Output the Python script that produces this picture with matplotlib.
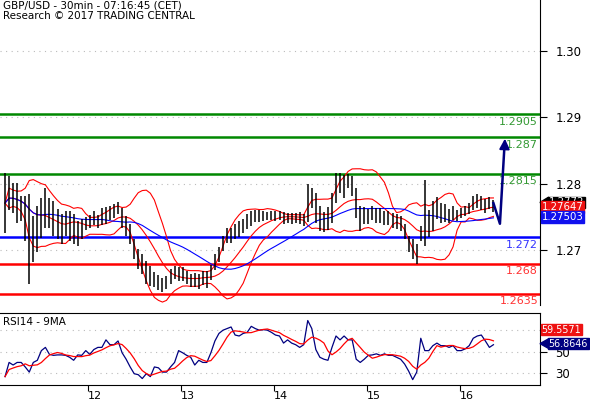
import numpy as np
import matplotlib
matplotlib.use("Agg")
import matplotlib.pyplot as plt
from matplotlib.patches import Polygon

# hourly closes
closes = [1.2771,1.2786,1.2778,1.2771,1.2763,1.2748,1.2717,1.2717,1.2732,1.2748,1.2763,1.2756,1.2748,1.2740,1.2732,1.2740,1.2737,1.2732,1.2725,1.2732,
          1.2740,1.2743,1.2748,1.2743,1.2751,1.2752,1.2756,1.2759,1.2763,1.2748,1.2737,1.2725,1.2702,1.2687,1.2679,1.2667,1.2661,1.2656,1.2652,1.2648,
          1.2652,1.2661,1.2667,1.2664,1.2664,1.2659,1.2655,1.2656,1.2653,1.2658,1.2656,1.2667,1.2682,1.2694,1.2710,1.2722,1.2722,1.2728,1.2732,1.2737,
          1.2743,1.2748,1.2751,1.2752,1.2751,1.2752,1.2752,1.2751,1.2752,1.2749,1.2748,1.2748,1.2748,1.2748,1.2746,1.2771,1.2778,1.2763,1.2748,1.2743,
          1.2748,1.2763,1.2793,1.2801,1.2796,1.2804,1.2796,1.2771,1.2748,1.2752,1.2751,1.2756,1.2752,1.2752,1.2748,1.2748,1.2745,1.2743,1.2740,1.2728,
          1.2710,1.2702,1.2694,1.2725,1.2756,1.2740,1.2752,1.2763,1.2756,1.2756,1.2752,1.2756,1.2752,1.2756,1.2759,1.2763,1.2771,1.2774,1.2771,1.2766,
          1.2771,1.2766]
range_pips = [90,52,45,60,38,68,135,68,68,60,60,45,52,45,45,38,45,45,38,30,20,20,21,20,26,26,20,20,18,30,30,30,30,30,30,34,30,22,22,21,
              20,22,20,21,21,20,20,21,22,21,26,22,24,22,22,22,22,22,24,21,22,22,18,18,15,12,14,15,14,18,15,16,15,18,18,56,30,45,38,30,
              34,45,45,30,34,22,30,45,38,26,22,20,22,22,21,21,22,22,22,22,24,30,30,22,98,40,45,33,30,27,21,20,16,16,15,16,21,21,21,21,
              18,18]
rsi_values = [26.8,40,37.6,40,40,35.8,31,40,42,51,54,47.5,46.6,47,47,46.6,44.8,42,47,46.6,
              51,47.5,52,54,54,61,56.5,56.5,60,49,43,35.8,29.5,28.6,25,29.5,26.8,35.8,35,31,
              31,35.8,40,51,49,46.6,44.8,37.6,42,40,40,49,60,67,70,71.5,73,65.5,64.6,67,68,
              73.6,71.5,70,70.5,70,68,65.5,64.6,58,61,58,56.5,54,56.5,79,71.5,52,44.8,43,42,
              54,64.6,61,64.6,61,61,43,40,43,46.6,47,48,46.6,48,46.6,46.6,44.8,43,38.5,31.9,
              24,31,62.5,51,51,55.6,58,55.6,55.6,54,55.6,51,51,52.6,55.6,62.5,64.6,65.5,60,54,56.5]
levels = [1.2905, 1.287, 1.2815, 1.272, 1.268, 1.2635]
level_colors = ["#008800", "#008800", "#008800", "#0000ff", "#ff0000", "#ff0000"]
level_text_colors = ["#339933", "#339933", "#339933", "#3333ff", "#ff3333", "#ff3333"]
day_labels = ["12", "13", "14", "15", "16"]
day_ticks = [12, 13, 14, 15, 16]
price_ticks = [1.27, 1.28, 1.29, 1.30]
price_tick_labels = ["1.27", "1.28", "1.29", "1.30"]
rsi_ticks = [30, 50, 70]
arrow_path = [1.2771, 1.2740, 1.2860]
last_tags = [("1.2772", 1.2772, "black"), ("1.27647", 1.27647, "#ee1111"), ("1.27503", 1.27503, "#1111ee")]
rsi_tags = [("59.5571", 70.5, "#ee1111"), ("56.8646", 57.5, "#000080")]

n = min(len(closes), len(range_pips), len(rsi_values))
c = np.array(closes[:n])
rng = np.array(range_pips[:n]) * 0.0001
hi, lo = c + rng / 2, c - rng / 2
rsi = np.array(rsi_values[:n])
t = 11.108 + np.arange(n) * 0.0434

def sma(a, p):
    return np.array([a[max(0, i - p + 1):i + 1].mean() for i in range(len(a))])
def sstd(a, p):
    return np.array([a[max(0, i - p + 1):i + 1].std() for i in range(len(a))])

mid = sma(c, 10)
sd = sstd(c, 10)
ma_long = sma(c, 25)
rsi_ma = sma(rsi, 5)

fig = plt.figure(figsize=(5.9, 4.0), dpi=100)
W, H = 590, 400
ax = fig.add_axes([0, 1 - 305 / H, 540 / W, 305 / H])
ax2 = fig.add_axes([0, 1 - 385 / H, 540 / W, 72 / H])

xlim = (12 - 88 / 93, 12 + (540 - 88) / 93)
for a in (ax, ax2):
    a.set_xlim(*xlim)
    a.yaxis.tick_right()
    a.tick_params(axis="y", length=5, labelsize=8.5, pad=6)
    for s in ("top", "left"):
        a.spines[s].set_visible(False)

ax.set_ylim(1.2618, 1.3076)
ax.spines["bottom"].set_visible(False)
ax.set_xticks([])
ax.set_yticks(price_ticks)
ax.set_yticklabels(price_tick_labels)
for v in price_ticks:
    ax.axhline(v, color="#bbbbbb", lw=0.8, ls=(0, (1, 4)), zorder=0)

for v, col, tc in zip(levels, level_colors, level_text_colors):
    ax.axhline(v, color=col, lw=1.8, zorder=2)
    ax.text(xlim[1] - 0.02, v - 0.0004, f"{v:g}", color=tc, ha="right", va="top", fontsize=8, zorder=3)

ax.vlines(t, lo, hi, color="black", lw=1.1, zorder=4)
ax.plot(t, mid + 2 * sd, color="red", lw=0.8, zorder=3)
ax.plot(t, mid - 2 * sd, color="red", lw=0.8, zorder=3)
ax.plot(t, mid, color="red", lw=0.8, zorder=3)
ax.plot(t, ma_long, color="blue", lw=0.8, zorder=3)

ta = [t[-1], t[-1] + 0.07, t[-1] + 0.12]
ax.plot(ta, arrow_path, color="#000080", lw=1.8, zorder=5)
ax.annotate("", xy=(ta[2] + 0.005, arrow_path[2] + 0.0012), xytext=(ta[2], arrow_path[2] - 0.0005),
            arrowprops=dict(arrowstyle="-|>", color="#000080", lw=1.5, mutation_scale=15), zorder=5)

ax.text(0.005, 0.998, "GBP/USD - 30min - 07:16:45 (CET)\nResearch © 2017 TRADING CENTRAL",
        transform=ax.transAxes, ha="left", va="top", fontsize=7.5, linespacing=1.1)

def tag(a, y, text, col, arrow=False, yr=1.0, fs=7.3):
    a.text(1.016 if arrow else 1.003, y, text, transform=a.get_yaxis_transform(), ha="left", va="center",
           fontsize=fs, color="white", zorder=10, clip_on=False,
           bbox=dict(boxstyle="square,pad=0.08", fc=col, ec=col))
    if arrow:
        a.add_patch(Polygon([(1.0, y), (1.016, y + yr), (1.016, y - yr)], closed=True,
                            transform=a.get_yaxis_transform(), color=col, clip_on=False, zorder=10))

for txt, v, col in last_tags:
    tag(ax, v, txt, col, arrow=(col == "black"), yr=0.0008)

ax2.set_ylim(19, 86)
ax2.set_yticks(rsi_ticks)
for v in rsi_ticks:
    ax2.axhline(v, color="#bbbbbb", lw=0.8, ls=(0, (1, 4)), zorder=0)
ax2.spines["top"].set_visible(True)
ax2.plot(t, rsi, color="#000080", lw=0.9)
ax2.plot(t, rsi_ma, color="red", lw=0.9)
ax2.text(0.005, 0.95, "RSI14 - 9MA", transform=ax2.transAxes, ha="left", va="top", fontsize=7.5)
ax2.set_xticks(day_ticks)
ax2.set_xticklabels(day_labels)
ax2.tick_params(axis="x", length=4, labelsize=8, pad=0)
for lab in ax2.get_xticklabels():
    lab.set_horizontalalignment("left")
for txt, v, col in rsi_tags:
    tag(ax2, v, txt, col, arrow=(col == "#000080"), yr=4.5, fs=6.9)

fig.savefig("out.png", dpi=100)
